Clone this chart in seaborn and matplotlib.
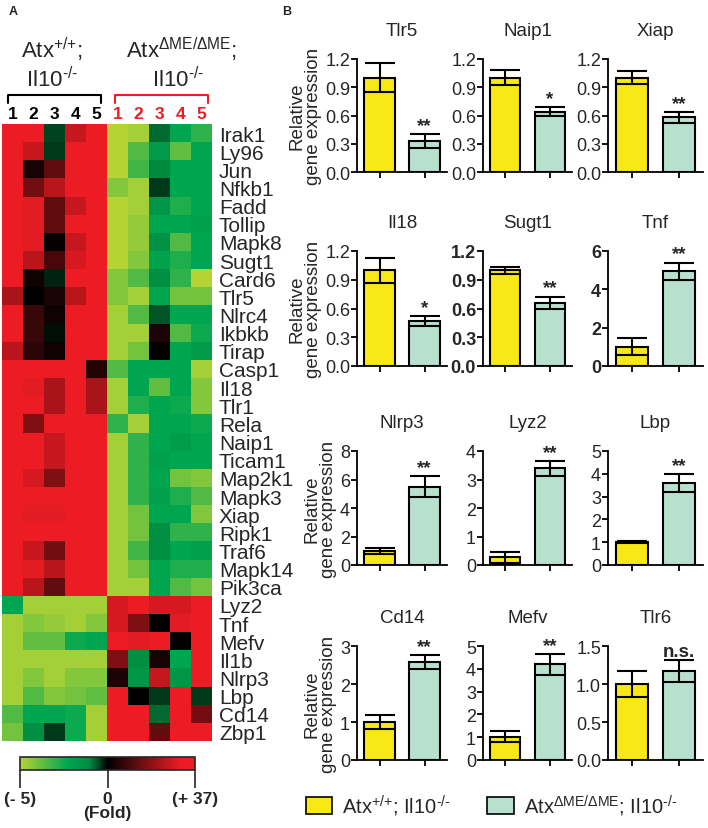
import numpy as np
import pandas as pd
import seaborn as sns
import matplotlib as mpl
import matplotlib.pyplot as plt
from matplotlib.colors import LinearSegmentedColormap, Normalize
from matplotlib.patches import Patch
from matplotlib.lines import Line2D

sns.set_style("white")
plt.rcParams['font.family'] = ['Liberation Sans', 'DejaVu Sans']
plt.rcParams['mathtext.fontset'] = 'custom'
plt.rcParams['mathtext.rm'] = 'Liberation Sans'
plt.rcParams['mathtext.it'] = 'Liberation Sans:italic'
plt.rcParams['mathtext.bf'] = 'Liberation Sans:bold'
plt.rcParams['mathtext.default'] = 'regular'

# ---- heatmap data (relative score: -1 = lowest, 0 = no change, 1 = highest)
genes = ["Irak1", "Ly96", "Jun", "Nfkb1", "Fadd", "Tollip", "Mapk8", "Sugt1", "Card6",
         "Tlr5", "Nlrc4", "Ikbkb", "Tirap", "Casp1", "Il18", "Tlr1", "Rela", "Naip1",
         "Ticam1", "Map2k1", "Mapk3", "Xiap", "Ripk1", "Traf6", "Mapk14", "Pik3ca",
         "Lyz2", "Tnf", "Mefv", "Il1b", "Nlrp3", "Lbp", "Cd14", "Zbp1"]
samples = ["1", "2", "3", "4", "5"]

wt_scores = [
    [1, 0.85, -0.1, 0.7, 1], [1, 0.7, -0.08, 0.9, 0.85], [1, 0.08, 0.35, 0.9, 1],
    [1, 0.4, 0.65, 0.9, 1], [1, 0.8, 0.35, 0.7, 1], [1, 0.8, 0.35, 0.9, 1],
    [1, 0.8, 0.02, 0.7, 0.9], [1, 0.65, 0.25, 0.75, 1], [0.9, 0.05, -0.05, 1, 1],
    [0.6, 0.0, 0.1, 0.65, 1], [1, 0.2, 0.05, 1, 1], [0.9, 0.2, -0.02, 0.85, 1],
    [0.65, 0.15, 0.05, 0.85, 1], [1, 0.9, 0.9, 0.85, 0.12], [1, 0.8, 0.6, 0.85, 0.6],
    [1, 0.85, 0.6, 1, 0.6], [0.9, 0.45, 1, 1, 1], [1, 0.9, 0.7, 1, 1],
    [1, 0.85, 0.7, 1, 0.9], [1, 0.75, 0.45, 0.9, 1], [1, 0.85, 0.85, 0.9, 1],
    [1, 0.8, 0.8, 0.9, 1], [1, 0.9, 0.85, 1, 1], [1, 0.7, 0.4, 1, 1],
    [1, 0.8, 0.65, 1, 1], [1, 0.65, 0.35, 1, 1],
    [-0.45, -0.95, -0.95, -0.95, -0.95], [-0.95, -0.85, -0.9, -0.95, -0.85],
    [-0.95, -0.75, -0.75, -0.5, -0.45], [-0.95, -0.95, -0.95, -0.95, -0.95],
    [-0.95, -0.85, -0.95, -0.85, -0.85], [-0.95, -0.7, -0.85, -0.8, -0.75],
    [-0.7, -0.45, -0.45, -0.5, -0.95], [-0.8, -0.25, -0.08, -0.5, -0.95],
]
ko_scores = [
    [-1, -0.95, -0.15, -0.45, -0.6], [-1, -0.7, -0.35, -0.75, -0.45], [-1, -0.65, -0.2, -0.45, -0.45],
    [-0.85, -0.95, -0.08, -0.45, -0.45], [-1, -0.95, -0.3, -0.55, -0.45], [-1, -0.9, -0.45, -0.45, -0.4],
    [-1, -0.9, -0.28, -0.7, -0.45], [-1, -0.85, -0.42, -0.55, -0.45], [-0.85, -0.7, -0.25, -0.6, -1],
    [-0.85, -0.95, -0.45, -0.8, -0.8], [-0.95, -0.7, -0.12, -0.45, -0.45], [-0.95, -0.95, 0.1, -0.7, -0.5],
    [-0.95, -0.8, 0.02, -0.45, -0.35], [-0.7, -0.45, -0.45, -0.45, -0.95], [-0.95, -0.45, -0.75, -0.45, -0.85],
    [-0.95, -0.55, -0.45, -0.5, -0.85], [-0.6, -0.95, -0.45, -0.45, -0.5], [-0.95, -0.6, -0.45, -0.38, -0.45],
    [-0.95, -0.6, -0.4, -0.45, -0.45], [-0.95, -0.6, -0.45, -0.8, -0.85], [-0.95, -0.6, -0.4, -0.55, -0.7],
    [-0.95, -0.8, -0.45, -0.45, -0.85], [-0.95, -0.8, -0.25, -0.6, -0.6], [-0.95, -0.65, -0.25, -0.45, -0.4],
    [-0.95, -0.8, -0.45, -0.55, -0.55], [-0.95, -0.95, -0.45, -0.7, -0.8],
    [0.75, 0.95, 0.75, 0.75, 1], [0.75, 0.45, 0.0, 0.8, 1], [0.95, 0.8, 1, 0.02, 1],
    [0.45, -0.25, 0.08, -0.45, 1], [0.1, -0.3, 0.7, -0.3, 1], [1, 0.0, -0.08, 1, -0.08],
    [1, 0.9, -0.15, 0.9, 0.4], [1, 1, 0.35, 1, 1],
]

# ---- qPCR bar data
bar_genes = ["Tlr5", "Naip1", "Xiap", "Il18", "Sugt1", "Tnf",
             "Nlrp3", "Lyz2", "Lbp", "Cd14", "Mefv", "Tlr6"]
wt_mean = [1.0, 1.0, 1.0, 1.0, 1.0, 1.0, 1.0, 0.27, 1.02, 1.0, 1.02, 1.0]
wt_err = [0.155, 0.08, 0.07, 0.13, 0.035, 0.44, 0.2, 0.19, 0.04, 0.18, 0.25, 0.165]
ko_mean = [0.33, 0.64, 0.58, 0.47, 0.66, 4.95, 5.5, 3.39, 3.6, 2.58, 4.2, 1.17]
ko_err = [0.075, 0.05, 0.055, 0.05, 0.065, 0.45, 0.74, 0.27, 0.4, 0.18, 0.46, 0.15]
sig = ["**", "*", "**", "*", "**", "**", "**", "**", "**", "**", "**", "n.s."]
y_top = [1.2, 1.2, 1.2, 1.2, 1.2, 6, 8, 4, 5, 3, 5, 1.5]
y_step = [0.3, 0.3, 0.3, 0.3, 0.3, 2, 2, 1, 1, 1, 1, 0.5]
bold_ticks = ["Sugt1", "Tnf"]

ko_sup = r"$^{\text{-/-}}$"
wt_sup = r"$^{\text{+/+}}$"
wt_label = "Atx" + wt_sup + "; Il10" + ko_sup
ko_label = "Atx$^{ΔME/ΔME}$; Il10" + ko_sup
yellow = "#f7e816"
teal = "#b8e0cf"

W, H = 708, 829
fig = plt.figure(figsize=(W / 100, H / 100), dpi=100)


def box(x0, y0, x1, y1):
    return [x0 / W, 1 - y1 / H, (x1 - x0) / W, (y1 - y0) / H]


# ---------------- panel A: heatmap
cmap = LinearSegmentedColormap.from_list("gbr", [
    (0.0, "#b5d334"), (0.27, "#00a651"), (0.4, "#008a40"),
    (0.5, "#000000"), (0.92, "#ed1c24"), (1.0, "#ed1c24")])

hm = pd.DataFrame(np.hstack([np.array(wt_scores), np.array(ko_scores)]),
                  index=genes, columns=samples + samples)
ax = fig.add_axes(box(2, 125, 212, 742))
sns.heatmap(hm, cmap=cmap, vmin=-1, vmax=1, cbar=False, ax=ax,
            xticklabels=True, yticklabels=True)
ax.yaxis.tick_right()
ax.set_yticklabels(genes, rotation=0, fontsize=15)
ax.tick_params(axis='y', length=0, pad=5)
ax.xaxis.tick_top()
ax.set_xticklabels(samples + samples, rotation=0, fontsize=12.5, fontweight='bold')
ax.tick_params(axis='x', length=0, pad=2)
for i, t in enumerate(ax.get_xticklabels()):
    t.set_color("black" if i < 5 else "#ed1c24")
ax.set_xlabel("")
ax.set_ylabel("")

fig.text(52 / W, 1 - 50 / H, "Atx" + wt_sup + ";", ha='center', va='center', fontsize=16)
fig.text(52 / W, 1 - 80 / H, "Il10" + ko_sup, ha='center', va='center', fontsize=16)
fig.text(181 / W, 1 - 50 / H, "Atx$^{ΔME/ΔME}$;", ha='center', va='center', fontsize=16)
fig.text(178 / W, 1 - 80 / H, "Il10" + ko_sup, ha='center', va='center', fontsize=16)
for (xa, xb), c in [((8, 101), "black"), ((115, 208), "#ed1c24")]:
    fig.add_artist(Line2D([xa / W, xa / W, xb / W, xb / W],
                          [1 - 104 / H, 1 - 96 / H, 1 - 96 / H, 1 - 104 / H],
                          color=c, lw=1.5))

cax = fig.add_axes(box(20, 758, 195, 771))
cb = mpl.colorbar.ColorbarBase(cax, cmap=cmap, norm=Normalize(-1, 1),
                               orientation='horizontal', ticks=[-1, 0, 1])
cb.outline.set_linewidth(1.2)
cax.set_xticklabels(["(- 5)", "0\n(Fold)", "(+ 37)"], fontsize=12.5,
                    fontweight='bold', linespacing=0.95)
cax.tick_params(axis='x', length=13, width=1.2, pad=2)

fig.text(9 / W, 1 - 12 / H, "A", fontsize=9, fontweight='bold', va='center')
fig.text(282 / W, 1 - 12 / H, "B", fontsize=9, fontweight='bold', va='center')

# ---------------- panel B: bar charts
col_x = [(357, 447), (483, 572), (608, 703)]
row_y = [(60, 173), (252, 367), (452, 566), (647, 761)]

for k, g in enumerate(bar_genes):
    r, c = divmod(k, 3)
    bx = fig.add_axes(box(col_x[c][0], row_y[r][0], col_x[c][1], row_y[r][1]))
    df = pd.DataFrame({"group": ["wt", "ko"], "value": [wt_mean[k], ko_mean[k]]})
    sns.barplot(data=df, x="group", y="value", hue="group", palette=[yellow, teal],
                saturation=1, width=0.67, edgecolor="black", linewidth=1.5,
                legend=False, ax=bx)
    bx.errorbar([0, 1], [wt_mean[k], ko_mean[k]], yerr=[wt_err[k], ko_err[k]],
                fmt='none', ecolor='black', elinewidth=1.5, capsize=11, capthick=1.5,
                zorder=5)
    bx.text(1, ko_mean[k] + ko_err[k], sig[k], ha='center', va='bottom',
            fontsize=13.5, fontweight='bold')
    bx.set_xlim(-0.5, 1.5)
    bx.set_ylim(0, y_top[k])
    ticks = np.arange(0, y_top[k] + y_step[k] / 2, y_step[k])
    bx.set_yticks(ticks)
    fmt = "{:.1f}" if y_step[k] < 1 else "{:.0f}"
    bx.set_yticklabels([fmt.format(t) for t in ticks], fontsize=13,
                       fontweight='bold' if g in bold_ticks else 'normal')
    bx.set_xticks([0, 1])
    bx.set_xticklabels([])
    bx.tick_params(axis='both', direction='out', length=4, width=1.3, color='black',
                   left=True, bottom=True, pad=1)
    sns.despine(ax=bx)
    for s in ["left", "bottom"]:
        bx.spines[s].set_linewidth(1.3)
        bx.spines[s].set_color("black")
    bx.set_xlabel("")
    bx.set_title(g, fontsize=13.5, pad=17)
    if c == 0:
        bx.set_ylabel("Relative\ngene expression", fontsize=13.5, labelpad=2, linespacing=1.0)
    else:
        bx.set_ylabel("")

handles = [Patch(facecolor=yellow, edgecolor='black', lw=1.2, label=wt_label),
           Patch(facecolor=teal, edgecolor='black', lw=1.2, label=ko_label)]
fig.legend(handles=handles, loc='center left', bbox_to_anchor=(288 / W, 1 - 806 / H),
           ncol=2, frameon=False, fontsize=14.5, handlelength=1.3, handleheight=0.9,
           columnspacing=1.8, handletextpad=0.5)

fig.savefig("out.png", dpi=100)
